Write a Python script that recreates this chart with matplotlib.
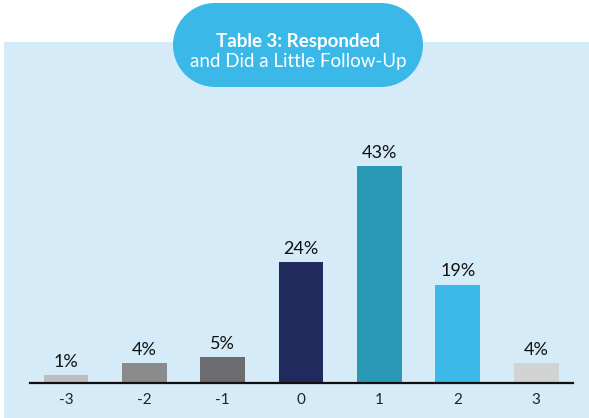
import matplotlib.pyplot as plt
from matplotlib.patches import Rectangle, Circle

# 数据
categories = ['-3', '-2', '-1', '0', '1', '2', '3']
values = [1.6, 4, 5.1, 24, 43, 19.5, 4]
value_labels = ['1%', '4%', '5%', '24%', '43%', '19%', '4%']
bar_colors = ['#bdbdbf', '#8b8b8e', '#6b6b70', '#212a5c', '#2a99b5', '#3bb9e9', '#d2d3d5']

plt.rcParams['font.family'] = ['Lato', 'DejaVu Sans']

W, H = 589, 418
fig = plt.figure(figsize=(W / 100, H / 100), dpi=100)
fig.patch.set_facecolor('white')

# 背景面板和标题胶囊 (像素坐标)
bg = fig.add_axes([0, 0, 1, 1])
bg.set_xlim(0, W)
bg.set_ylim(H, 0)
bg.axis('off')
bg.add_patch(Rectangle((4, 42), W - 4, H - 42, facecolor='#d5ebf7', edgecolor='none'))
pill = '#3ab9e8'
r = 42
bg.add_patch(Rectangle((173 + r, 3), 250 - 2 * r, 2 * r, facecolor=pill, edgecolor='none'))
bg.add_patch(Circle((173 + r, 3 + r), r, facecolor=pill, edgecolor='none'))
bg.add_patch(Circle((423 - r, 3 + r), r, facecolor=pill, edgecolor='none'))
bg.text(298, 41, 'Table 3: Responded', ha='center', va='center', color='white',
        fontsize=13.5, fontweight='bold')
bg.text(298, 62, 'and Did a Little Follow-Up', ha='center', va='center', color='white',
        fontsize=13.5)

# 柱状图
ax = fig.add_axes([30 / W, 35 / H, 543 / W, 280 / H])
ax.patch.set_alpha(0)
x = list(range(len(categories)))
ax.bar(x, values, width=0.57, color=bar_colors)
ax.set_xlim(-0.46, 6.47)
ax.set_ylim(0, 280 / 5.05)

for xi, v, lab in zip(x, values, value_labels):
    ax.text(xi, v + 1.0, lab, ha='center', va='bottom', fontsize=13, color='#111111')

ax.set_xticks(x)
ax.set_xticklabels(categories, fontsize=11, color='#222222')
ax.tick_params(axis='x', length=0, pad=7)
ax.set_yticks([])
for s in ['top', 'right', 'left']:
    ax.spines[s].set_visible(False)
ax.spines['bottom'].set_linewidth(1.6)
ax.spines['bottom'].set_color('#111111')

fig.savefig('out.png', dpi=100)
